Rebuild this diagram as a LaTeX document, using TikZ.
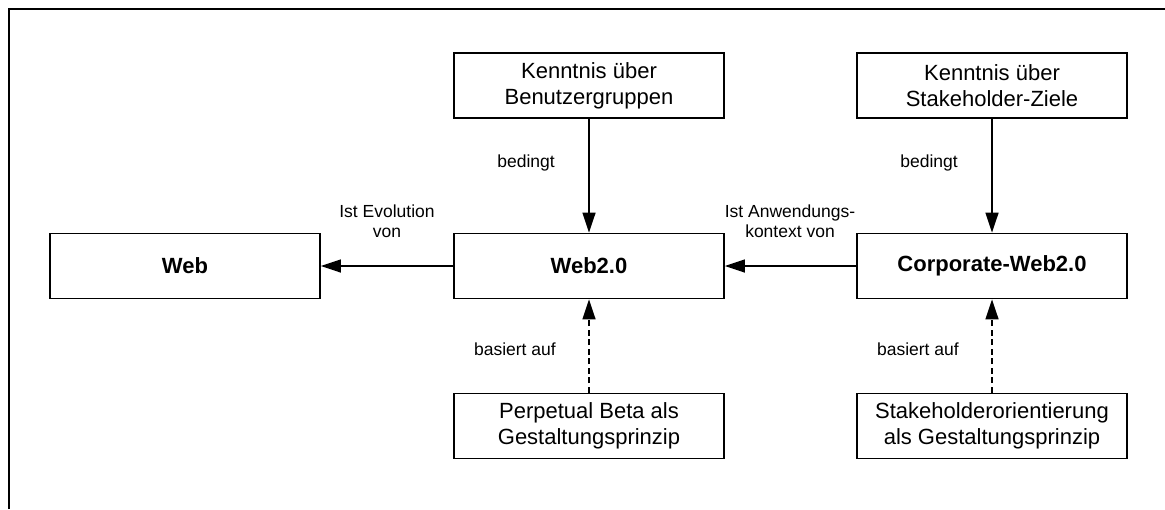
\documentclass[tikz,border=0pt]{standalone}
\usepackage{fontspec}
\setmainfont{Liberation Sans}
\usetikzlibrary{arrows.meta}
\begin{document}
\begin{tikzpicture}[x=1pt,y=-1pt,
  box/.style={draw, line width=1.8pt, minimum width=270pt, minimum height=65pt, align=center, inner sep=0pt, font=\fontsize{22}{26}\selectfont},
  bbox/.style={box, font=\fontsize{22}{26}\selectfont\bfseries},
  lbl/.style={align=center, inner sep=0pt, font=\fontsize{17.5}{20.5}\selectfont},
  arr/.style={line width=1.6pt, -{Triangle[length=20pt,width=13pt]}},
  darr/.style={arr, dash pattern=on 6pt off 3.5pt}]
\useasboundingbox (0,0) rectangle (1165,509);
\draw[line width=2pt] (9,509) -- (9,9) -- (1166,9);
\node[bbox] (web) at (185,266) {Web};
\node[bbox] (web2) at (589,266) {Web2.0};
\node[bbox] (corp) at (992,266) {Corporate-Web2.0};
\node[box] (kb) at (589,85.5) {Kenntnis über\\Benutzergruppen};
\node[box] (ks) at (992,85.5) {Kenntnis über\\Stakeholder-Ziele};
\node[box] (pb) at (589,426) {Perpetual Beta als\\Gestaltungsprinzip};
\node[box] (so) at (992,426) {Stakeholderorientierung\\als Gestaltungsprinzip};
\draw[arr] (web2) -- (web);
\draw[arr] (corp) -- (web2);
\draw[arr] (kb) -- (web2);
\draw[arr] (ks) -- (corp);
\draw[darr] (pb) -- (web2);
\draw[darr] (so) -- (corp);
\node[lbl] (l1) at (387,221) {Ist Evolution\\von};
\node[lbl] (l2) at (790,221) {Ist Anwendungs-\\kontext von};
\node[lbl, anchor=east] (l3) at (555,163) {bedingt};
\node[lbl, anchor=east] (l4) at (958,163) {bedingt};
\node[lbl, anchor=east] (l5) at (556,349) {basiert auf};
\node[lbl, anchor=east] (l6) at (959,349) {basiert auf};
\end{tikzpicture}
\end{document}
